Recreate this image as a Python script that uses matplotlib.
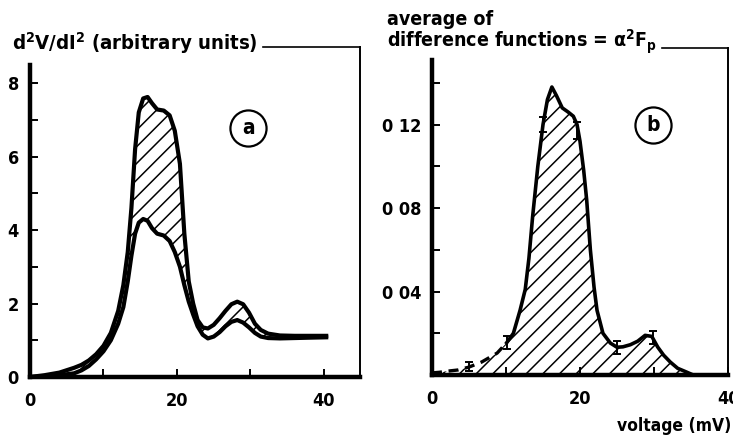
import matplotlib
matplotlib.use("Agg")
import matplotlib.pyplot as plt

plt.rcParams['font.family'] = ['DejaVu Sans']
plt.rcParams['font.stretch'] = 'condensed'
plt.rcParams['font.weight'] = 'bold'
plt.rcParams['mathtext.default'] = 'regular'
plt.rcParams['hatch.linewidth'] = 1.1

# panel (a): second derivative curves, two conditions
volt_a = [0, 2, 4, 6, 7, 8, 9, 10, 11, 12, 12.7, 13.3, 13.8, 14.3, 14.8, 15.4,
          16.0, 16.6, 17.3, 18.2, 19.0, 19.7, 20.4, 21.0, 21.6, 22.2, 22.8,
          23.5, 24.2, 25.0, 25.8, 26.6, 27.4, 28.2, 29.0, 29.8, 30.6, 31.4,
          32.4, 34, 36, 38, 40.3]
upper_a = [0, 0.05, 0.12, 0.25, 0.33, 0.45, 0.62, 0.85, 1.2, 1.8, 2.5, 3.4,
           4.6, 6.2, 7.2, 7.58, 7.62, 7.45, 7.28, 7.25, 7.12, 6.7, 5.8, 3.9,
           2.6, 2.0, 1.55, 1.35, 1.32, 1.42, 1.6, 1.8, 1.98, 2.05, 1.98, 1.75,
           1.45, 1.28, 1.18, 1.13, 1.12, 1.12, 1.12]
lower_a = [0, 0.02, 0.05, 0.1, 0.18, 0.3, 0.48, 0.7, 1.0, 1.45, 1.9, 2.6, 3.3,
           3.9, 4.2, 4.3, 4.25, 4.05, 3.9, 3.85, 3.7, 3.4, 3.0, 2.5, 2.05, 1.7,
           1.38, 1.15, 1.05, 1.1, 1.22, 1.38, 1.5, 1.55, 1.48, 1.35, 1.2, 1.1,
           1.06, 1.05, 1.06, 1.07, 1.08]
yticks_a = [0, 1, 2, 3, 4, 5, 6, 7, 8]
ylabels_a = ['0', '', '2', '', '4', '', '6', '', '8']

# panel (b): averaged difference function
volt_b = [0, 1, 2, 3.5, 5, 6.7, 8.8, 10.1, 11, 11.9, 12.6, 13.1, 13.6, 14.3,
          15, 15.6, 16.2, 16.8, 17.6, 18.4, 19.1, 19.6, 20.0, 20.5, 20.9, 21.4,
          21.9, 22.3, 23.1, 24.1, 25.0, 25.8, 26.8, 27.8, 28.8, 29.7, 30.5,
          31.3, 32.2, 33.2, 34.4, 35.3]
a2f = [0.001, 0.0013, 0.0018, 0.0024, 0.0038, 0.0062, 0.0105, 0.0155, 0.02,
       0.031, 0.041, 0.056, 0.076, 0.100, 0.120, 0.132, 0.138, 0.134, 0.128,
       0.126, 0.124, 0.120, 0.112, 0.098, 0.084, 0.060, 0.042, 0.031, 0.020,
       0.0153, 0.0133, 0.0135, 0.0145, 0.0162, 0.019, 0.0185, 0.0134, 0.0095,
       0.0062, 0.0032, 0.0014, 0.0]
err_x = [5, 10.1, 15, 19.6, 25, 29.8]
err_y = [0.004, 0.0155, 0.12, 0.117, 0.0133, 0.018]
err_h = [0.002, 0.003, 0.0035, 0.004, 0.003, 0.0033]
yticks_b = [0, 0.02, 0.04, 0.06, 0.08, 0.10, 0.12, 0.14]
ylabels_b = ['', '', '0 04', '', '0 08', '', '0 12', '']
xticks = [0, 10, 20, 30, 40]
xlabels = ['0', '', '20', '', '40']

fig = plt.figure(figsize=(7.33, 4.41), dpi=100)
ax1 = fig.add_axes([30/733, 64/441, 330/733, 330/441])
ax2 = fig.add_axes([432/733, 66/441, 296/733, 327/441])


def frame(ax, xmax, ymax, left_top, top_start):
    ax.set_xlim(0, xmax)
    ax.set_ylim(0, ymax)
    ax.spines['left'].set_linewidth(3.2)
    ax.spines['left'].set_bounds(0, left_top)
    ax.spines['bottom'].set_linewidth(3.2)
    ax.spines['right'].set_linewidth(1.4)
    ax.spines['top'].set_linewidth(1.2)
    ax.spines['top'].set_bounds(top_start, xmax)
    ax.tick_params(direction='in', length=6, width=1.4, labelsize=13,
                   pad=8)
    ax.tick_params(axis='x', pad=11)
    ax.tick_params(right=False, top=False)


# ---- panel a
frame(ax1, 44.9, 8.98, 8.5, 31.7)
ax1.fill_between(volt_a, lower_a, upper_a, facecolor='white',
                 edgecolor='black', hatch='//', linewidth=0)
ax1.plot(volt_a, upper_a, color='black', lw=3, solid_joinstyle='round')
ax1.plot(volt_a, lower_a, color='black', lw=3, solid_joinstyle='round')
ax1.set_yticks(yticks_a)
ax1.set_yticklabels(ylabels_a)
ax1.set_xticks(xticks)
ax1.set_xticklabels(xlabels)
ax1.plot([29.7], [6.78], marker='o', ms=26, mfc='white', mec='black',
         mew=1.6, clip_on=False)
ax1.text(29.7, 6.78, 'a', ha='center', va='center', fontsize=15)

# ---- panel b
frame(ax2, 40, 0.1567, 0.151, 31.1)
ax2.fill_between(volt_b, 0, a2f, facecolor='white', edgecolor='black',
                 hatch='//', linewidth=0)
n_dash = 8
ax2.plot(volt_b[:n_dash], a2f[:n_dash], color='black', lw=2.4,
         linestyle=(0, (3, 2)))
ax2.plot(volt_b[n_dash - 1:], a2f[n_dash - 1:], color='black', lw=2.6,
         solid_joinstyle='round')
ax2.errorbar(err_x, err_y, yerr=err_h, fmt='none', ecolor='black',
             elinewidth=1.4, capsize=3, capthick=1.4)
ax2.set_yticks(yticks_b)
ax2.set_yticklabels(ylabels_b)
ax2.set_xticks(xticks)
ax2.set_xticklabels(xlabels)
ax2.plot([29.9], [0.1198], marker='o', ms=26, mfc='white', mec='black',
         mew=1.6, clip_on=False)
ax2.text(29.9, 0.1198, 'b', ha='center', va='center', fontsize=15)

# ---- titles
fig.text(12/733, 1 - 50/441, 'd$^2$V/dI$^2$ (arbitrary units)',
         fontsize=14.6, va='baseline', ha='left')
fig.text(387/733, 1 - 25/441, 'average of', fontsize=14, va='baseline')
fig.text(387/733, 1 - 48/441, 'difference functions = α$^2$F$_p$',
         fontsize=14, va='baseline')
fig.text(731/733, 1 - 431/441, 'voltage (mV)', fontsize=12.5,
         va='baseline', ha='right')

fig.savefig('out.png', dpi=100)
